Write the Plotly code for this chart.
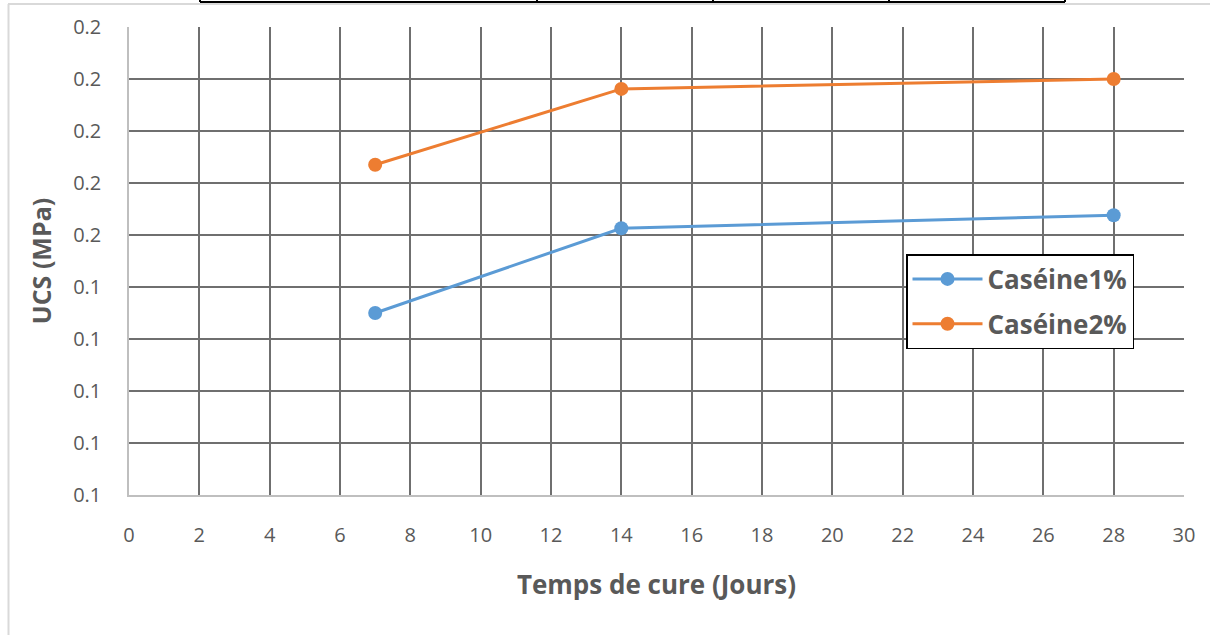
import plotly.graph_objects as go
from decimal import Decimal, ROUND_HALF_UP

# ---- data ----
days = [7, 14, 28]
caseine1 = [0.135, 0.1513, 0.1538]
caseine2 = [0.1635, 0.1781, 0.1800]
series_names = ["Caséine1%", "Caséine2%"]
x_ticks = list(range(0, 31, 2))
y_ticks = [0.10, 0.11, 0.12, 0.13, 0.14, 0.15, 0.16, 0.17, 0.18, 0.19]
y_ticktext = [str(Decimal(str(v)).quantize(Decimal("0.1"), rounding=ROUND_HALF_UP)) for v in y_ticks]

W, H = 1210, 635
L, R, T, B = 129, 26, 27, 140
pw, ph = W - L - R, H - T - B

def px(xp):
    return (xp - L) / pw

def py(yp):
    return (H - B - yp) / ph

fig = go.Figure()
fig.add_trace(go.Scatter(x=days, y=caseine1, name=series_names[0], mode="lines+markers", legendgroup="a",
                         line=dict(color="#5B9BD5", width=3), marker=dict(size=14, color="#5B9BD5")))
fig.add_trace(go.Scatter(x=days, y=caseine2, name=series_names[1], mode="lines+markers", legendgroup="b",
                         line=dict(color="#ED7D31", width=3), marker=dict(size=14, color="#ED7D31")))

font_family = "Open Sans, Liberation Sans, sans-serif"
tick_font = dict(family=font_family, size=20, color="#595959")

fig.update_layout(
    width=W, height=H,
    margin=dict(l=L, r=R, t=T, b=B),
    paper_bgcolor="white", plot_bgcolor="white",
    showlegend=True,
    legend=dict(x=px(906), y=py(254), xanchor="left", yanchor="top",
                bordercolor="black", borderwidth=1.5, bgcolor="white",
                font=dict(family=font_family, size=26, color="#595959", weight="bold"),
                itemwidth=70, tracegroupgap=8),
    xaxis=dict(range=[0, 30], tickvals=x_ticks, tickfont=tick_font,
               showgrid=True, gridcolor="#6f6f6f", gridwidth=1.5,
               showline=True, linecolor="#bfbfbf", linewidth=1.5,
               zeroline=False, ticks="", ticklabelstandoff=21,
               title=dict(text="Temps de cure (Jours)", standoff=29,
                          font=dict(family=font_family, size=26, color="#595959", weight="bold"))),
    yaxis=dict(range=[0.10, 0.19], tickvals=y_ticks, ticktext=y_ticktext, tickfont=tick_font,
               showgrid=True, gridcolor="#6f6f6f", gridwidth=1.5,
               showline=True, linecolor="#bfbfbf", linewidth=1.5,
               zeroline=False, ticks="", ticklabelstandoff=22,
               title=dict(text="UCS (MPa)", standoff=14,
                          font=dict(family=font_family, size=25, color="#595959", weight="bold"))),
)

shapes = []
# light gray outer frame
shapes.append(dict(type="line", xref="paper", yref="paper", x0=px(8), x1=px(W), y0=py(4), y1=py(4),
                   line=dict(color="#d9d9d9", width=2)))
shapes.append(dict(type="line", xref="paper", yref="paper", x0=px(8.5), x1=px(8.5), y0=py(4), y1=py(H),
                   line=dict(color="#d9d9d9", width=2)))
# cropped table border at top
shapes.append(dict(type="line", xref="paper", yref="paper", x0=px(200), x1=px(1065), y0=py(2), y1=py(2),
                   line=dict(color="black", width=2)))
for xv in [200, 537, 713, 889, 1065]:
    shapes.append(dict(type="line", xref="paper", yref="paper", x0=px(xv), x1=px(xv), y0=py(0), y1=py(2),
                       line=dict(color="black", width=2)))
fig.update_layout(shapes=shapes)

fig.write_html("out.html", config={"displayModeBar": False},
               post_script="document.body.style.margin='0';document.body.style.padding='0';")
